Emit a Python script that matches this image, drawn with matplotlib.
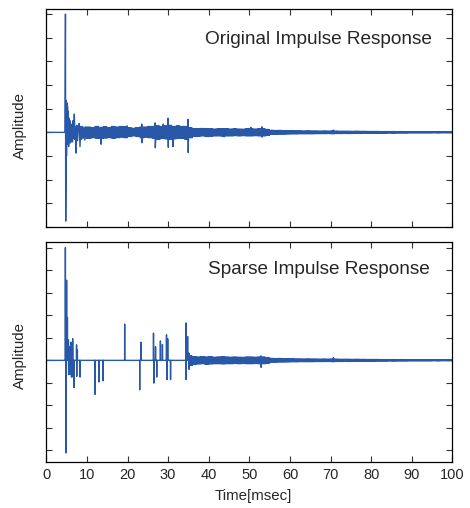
import matplotlib
matplotlib.use('Agg')
import matplotlib.pyplot as plt
import numpy as np

plt.rcParams['font.family'] = ['Liberation Sans', 'DejaVu Sans']

# direct sound + first reflections of the original response (msec, amplitude)
t_head = [0, 4.6, 4.72, 4.78, 4.84, 4.9, 4.98, 5.06, 5.14, 5.22,
          5.3, 5.4, 5.5, 5.6, 5.7, 5.8, 5.9, 6.0, 6.15, 6.3,
          6.45, 6.6, 6.75, 6.9, 7.05, 7.2, 7.35, 7.5, 7.7, 7.9,
          8.1, 8.3, 8.5, 8.7, 8.9, 9.1, 9.3, 9.5, 9.7, 9.9]
a_head = [0, 0, 1.0, -0.75, -0.46, 0.27, -0.2, 0.25, -0.1, 0.22,
          -0.08, 0.18, -0.12, 0.12, -0.06, 0.1, -0.09, 0.06, -0.08, 0.07,
          -0.08, 0.1, -0.05, 0.155, -0.06, 0.05, -0.175, 0.06, -0.07, 0.05,
          0.075, -0.12, 0.05, -0.06, 0.05, -0.05, 0.045, -0.065, 0.047, -0.05]

# reverb tail, typical peak / trough per 1 msec bin, bins 10..99
tail_start = 10
tail_hi = [0.045, 0.04, 0.05, 0.042, 0.048, 0.04, 0.05, 0.045, 0.05, 0.048,
           0.04, 0.035, 0.04, 0.045, 0.045, 0.05, 0.05, 0.055, 0.05, 0.055,
           0.06, 0.05, 0.055, 0.05, 0.05, 0.04, 0.032, 0.03, 0.033, 0.03,
           0.032, 0.028, 0.03, 0.032, 0.03, 0.028, 0.03, 0.028, 0.027, 0.03,
           0.03, 0.028, 0.03, 0.03, 0.025, 0.018, 0.016, 0.017, 0.015, 0.015,
           0.014, 0.013, 0.013, 0.012, 0.013, 0.012, 0.012, 0.011, 0.012, 0.011,
           0.012, 0.011, 0.01, 0.01, 0.01, 0.009, 0.01, 0.009, 0.009, 0.008,
           0.008, 0.008, 0.007, 0.007, 0.007, 0.007, 0.006, 0.007, 0.006, 0.006,
           0.006, 0.006, 0.005, 0.006, 0.005, 0.005, 0.005, 0.005, 0.005, 0.005]
tail_lo = [-0.05, -0.045, -0.05, -0.05, -0.048, -0.045, -0.05, -0.045, -0.04, -0.045,
           -0.035, -0.03, -0.035, -0.045, -0.04, -0.045, -0.05, -0.06, -0.05, -0.055,
           -0.06, -0.055, -0.05, -0.05, -0.06, -0.045, -0.035, -0.032, -0.03, -0.035,
           -0.032, -0.03, -0.03, -0.032, -0.03, -0.03, -0.028, -0.03, -0.028, -0.03,
           -0.03, -0.028, -0.03, -0.03, -0.025, -0.017, -0.016, -0.015, -0.015, -0.014,
           -0.013, -0.013, -0.012, -0.012, -0.012, -0.012, -0.011, -0.011, -0.011, -0.01,
           -0.012, -0.01, -0.01, -0.009, -0.01, -0.009, -0.009, -0.009, -0.008, -0.008,
           -0.008, -0.007, -0.007, -0.007, -0.006, -0.007, -0.006, -0.006, -0.006, -0.005,
           -0.005, -0.005, -0.005, -0.005, -0.005, -0.004, -0.005, -0.004, -0.004, -0.004]

# isolated excursions sticking out of the band (original response)
peak_t = [13.5, 19.9, 23.5, 23.6, 26.8, 26.85, 28.8, 30.0, 30.05, 31.2,
          34.9, 34.95, 43.8, 50.4, 53.1, 53.15, 70.7]
peak_a = [-0.1, 0.055, 0.07, -0.088, 0.08, -0.13, 0.07, 0.12, -0.127, -0.12,
          0.11, -0.17, -0.037, 0.042, 0.047, -0.04, 0.02]

# sparse version: isolated taps, then same tail from 35 msec
spike_t = [4.7, 4.85, 5.0, 5.2, 5.45, 5.5, 5.7, 5.75, 6.1, 6.2, 6.5, 6.55, 6.8,
           7.45, 7.5, 7.65, 8.3, 12.0, 13.0, 14.0, 19.3, 23.0, 23.3, 26.4, 26.5,
           26.9, 27.2, 28.1, 28.6, 29.6, 29.7, 29.9, 30.6, 34.4, 34.45, 34.8]
spike_a = [1.0, -0.82, 0.71, 0.38, 0.18, -0.125, 0.12, -0.125, 0.16, -0.146, 0.19, -0.146, -0.24,
           0.136, -0.14, 0.09, -0.146, -0.3, -0.19, -0.18, 0.32, -0.26, 0.16, 0.24, -0.2,
           0.12, -0.146, 0.17, 0.14, 0.225, -0.17, 0.19, -0.17, 0.33, -0.17, 0.21]
sparse_tail_from = 35
sparse_peak_t = [35.1, 35.15, 52.85, 52.9, 70.7]
sparse_peak_a = [0.065, -0.08, 0.04, -0.062, 0.024]

xticks = list(range(0, 101, 10))

blue = '#2a58a8'
txt = '#262626'


def zigzag(start, hi, lo, reps=4):
    # each 1 msec bin drawn as a dense up/down scribble between its peak and trough
    xs, ys = [], []
    step = 1.0 / (2 * reps)
    for i in range(len(hi)):
        for r in range(reps):
            xs += [start + i + (2 * r + 0.5) * step, start + i + (2 * r + 1.5) * step]
            ys += [hi[i], lo[i]]
    return xs, ys


def merge(xs, ys, px, pa):
    pts = sorted(list(zip(xs, ys)) + list(zip(px, pa)), key=lambda p: p[0])
    return [p[0] for p in pts], [p[1] for p in pts]


zx, zy = zigzag(tail_start, tail_hi, tail_lo)
zx, zy = merge(zx, zy, peak_t, peak_a)
orig_x = t_head + zx
orig_y = a_head + zy

sp_x, sp_y = [0], [0]
for t, a in zip(spike_t, spike_a):
    sp_x += [t, t, t]
    sp_y += [0, a, 0]
k = sparse_tail_from - tail_start
sx, sy = zigzag(sparse_tail_from, tail_hi[k:], tail_lo[k:])
sx, sy = merge(sx, sy, sparse_peak_t, sparse_peak_a)
sp_x += [sparse_tail_from] + sx
sp_y += [0] + sy

fig = plt.figure(figsize=(4.7, 5.08), dpi=100)
ax1 = fig.add_axes([0.0985, 0.5531, 0.864, 0.4297])
ax2 = fig.add_axes([0.0985, 0.0911, 0.864, 0.4319])

ax1.plot(orig_x, orig_y, color=blue, lw=1.0)
ax2.plot(sp_x, sp_y, color=blue, lw=1.0)

ax1.set_ylim(-0.8, 1.045)
ax2.set_ylim(-0.9, 1.048)

for ax in (ax1, ax2):
    ax.set_xlim(0, 100)
    ax.set_xticks(xticks)
    ax.set_yticks(np.arange(-0.8, 1.01, 0.2))
    ax.tick_params(direction='in', top=True, right=True, length=4, width=0.8,
                   color='#333333', labelsize=10.5, labelcolor=txt, labelleft=False, pad=4.5)
    for s in ax.spines.values():
        s.set_linewidth(0.9)

ax1.tick_params(labelbottom=False)

ax1.text(0.9495, 0.859, 'Original Impulse Response', transform=ax1.transAxes,
         ha='right', va='center', fontsize=13.7, color=txt)
ax2.text(0.9446, 0.874, 'Sparse Impulse Response', transform=ax2.transAxes,
         ha='right', va='center', fontsize=13.7, color=txt)

ax1.text(-0.0647, 0.463, 'Amplitude', transform=ax1.transAxes, rotation=90,
         ha='center', va='center', fontsize=10.8, color=txt)
ax2.text(-0.0647, 0.483, 'Amplitude', transform=ax2.transAxes, rotation=90,
         ha='center', va='center', fontsize=10.8, color=txt)

ax2.set_xlabel('Time[msec]', fontsize=10.8, color=txt)
ax2.xaxis.set_label_coords(0.509, -0.1245)

fig.savefig('out.png', dpi=100)
